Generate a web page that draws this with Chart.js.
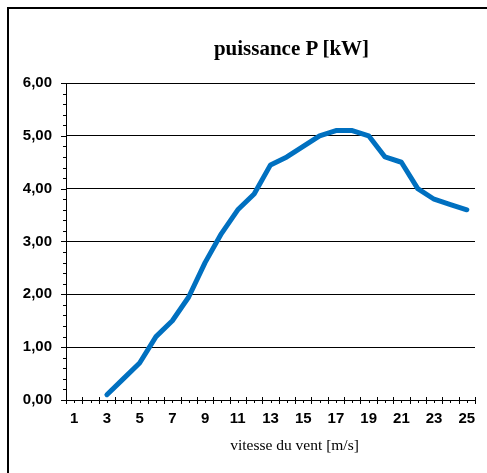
<!DOCTYPE html>
<html>
<head>
<meta charset="utf-8">
<script src="https://cdn.jsdelivr.net/npm/chart.js@4"></script>
<style>
    html, body { margin: 0; padding: 0; background: #fff; }
    body { width: 487px; height: 473px; position: relative; overflow: hidden; }
    #frame {
        position: absolute; left: 7px; top: 7px;
        width: 600px; height: 600px;
        border: 2px solid #000; box-sizing: border-box;
    }
    #wrap { position: absolute; left: 0; top: 0; width: 487px; height: 473px; }
    .title {
        position: absolute; left: 0; width: 487px; text-align: center;
        font-family: 'Liberation Serif', 'Times New Roman', serif; color: #000;
        white-space: nowrap;
    }
    #chartTitle { top: 36px; font-size: 21px; font-weight: bold; padding-left: 96px; box-sizing: border-box; }
    #axisTitle { top: 436px; font-size: 15.5px; padding-left: 102px; box-sizing: border-box; }
</style>
</head>
<body>
<div id="frame"></div>
<div id="wrap"><canvas id="powerChart" width="487" height="473"></canvas></div>
<div id="chartTitle" class="title">puissance P [kW]</div>
<div id="axisTitle" class="title">vitesse du vent [m/s]</div>
<script>
// wind speed categories [m/s]
const speeds = ['1','2','3','4','5','6','7','8','9','10','11','12','13',
                '14','15','16','17','18','19','20','21','22','23','24','25'];
// power P [kW], nothing below 3 m/s
const power = [null, null, 0.10, 0.40, 0.70, 1.20, 1.50, 1.95, 2.60, 3.15, 3.60, 3.90, 4.45,
               4.60, 4.80, 5.00, 5.10, 5.10, 5.00, 4.60, 4.50, 4.00, 3.80, 3.70, 3.60];
const yTicks = [0, 1, 2, 3, 4, 5, 6];
const yMinorStep = 0.2;

const fmt = v => v.toFixed(2).replace('.', ',');

// Excel-like tick marks: crossing majors at category bounds, small minors
const tickMarks = {
    id: 'tickMarks',
    afterDraw(chart) {
        const c = chart.ctx;
        const x = chart.scales.x;
        const y = chart.scales.y;
        const n = speeds.length;
        const y0 = y.getPixelForValue(0);
        c.save();
        c.strokeStyle = '#000';
        c.lineWidth = 1;
        c.beginPath();
        // axis lines
        c.moveTo(x.left, y0 + 0.5);
        c.lineTo(x.right, y0 + 0.5);
        c.moveTo(x.left + 0.5, y.top);
        c.lineTo(x.left + 0.5, y0);
        for (let k = 0; k <= n; k++) {
            const px = Math.round(x.left + (x.right - x.left) * k / n) + 0.5;
            c.moveTo(px, y0 - 3);
            c.lineTo(px, y0 + 4);
        }
        for (let i = 0; i < n; i++) {
            const px = Math.round(x.getPixelForValue(i)) + 0.5;
            c.moveTo(px, y0);
            c.lineTo(px, y0 + 3);
        }
        for (let v = 0; v <= yTicks[yTicks.length - 1] + 1e-6; v += yMinorStep) {
            const py = Math.round(y.getPixelForValue(v)) + 0.5;
            const major = Math.abs(v - Math.round(v)) < 1e-6;
            c.moveTo(x.left - (major ? 5 : 3), py);
            c.lineTo(x.left, py);
        }
        c.stroke();
        c.restore();
    }
};

new Chart(document.getElementById('powerChart'), {
    type: 'line',
    data: {
        labels: speeds,
        datasets: [{
            data: power,
            borderColor: '#0070C0',
            borderWidth: 5,
            borderCapStyle: 'round',
            borderJoinStyle: 'round',
            pointRadius: 0,
            tension: 0,
            spanGaps: false
        }]
    },
    options: {
        responsive: false,
        animation: false,
        layout: { padding: { left: 0, right: 12, top: 83, bottom: 0 } },
        plugins: {
            legend: { display: false },
            title: { display: false },
            tooltip: { enabled: false }
        },
        scales: {
            x: {
                offset: true,
                grid: { display: false, drawTicks: false },
                border: { display: false },
                afterFit: s => { s.height = 73; },
                ticks: {
                    autoSkip: false,
                    maxRotation: 0,
                    padding: 10,
                    color: '#000',
                    font: { family: 'Liberation Sans', size: 15, weight: 'bold' },
                    callback: (v, i) => (i % 2 === 0 ? speeds[i] : '')
                }
            },
            y: {
                min: yTicks[0],
                max: yTicks[yTicks.length - 1],
                afterFit: s => { s.width = 66; },
                afterBuildTicks: s => { s.ticks = yTicks.map(v => ({ value: v })); },
                grid: { color: '#000', lineWidth: 1, drawTicks: false },
                border: { display: false },
                ticks: {
                    padding: 14,
                    color: '#000',
                    font: { family: 'Liberation Sans', size: 15, weight: 'bold' },
                    callback: v => fmt(v)
                }
            }
        }
    },
    plugins: [tickMarks]
});
</script>
</body>
</html>
